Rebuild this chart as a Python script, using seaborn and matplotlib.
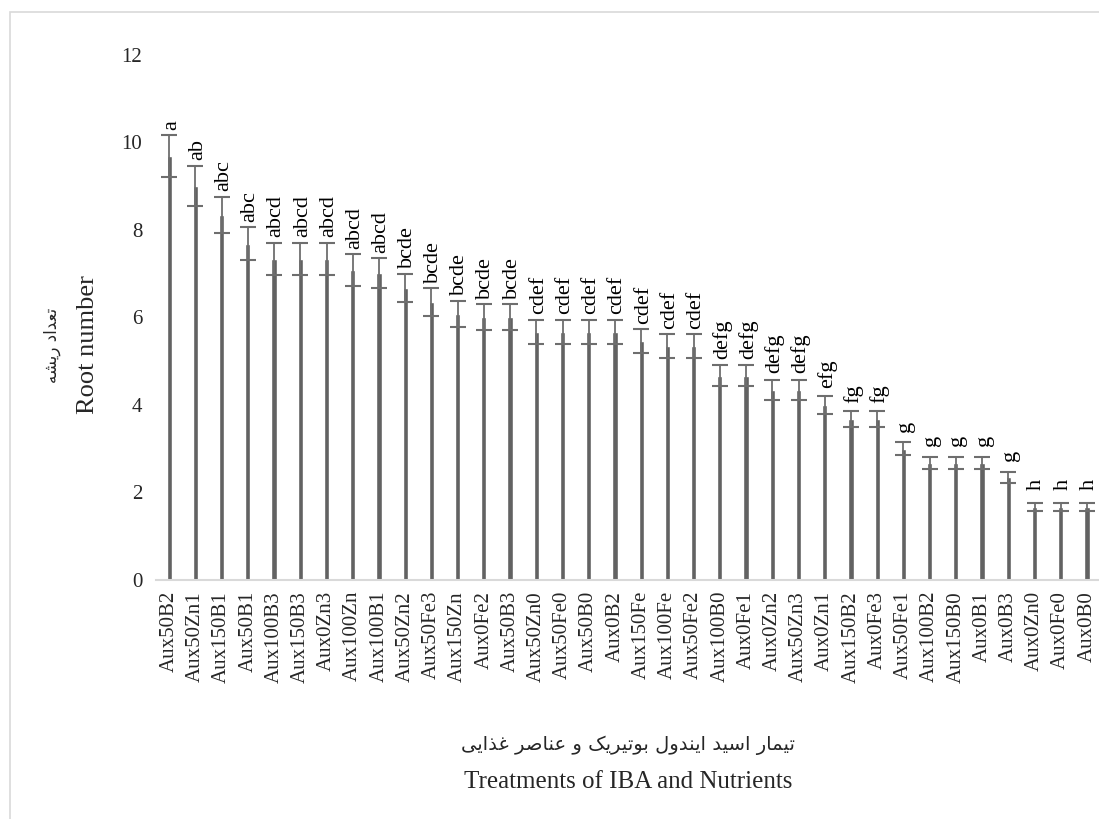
import numpy as np
import pandas as pd
import matplotlib
matplotlib.use("Agg")
import matplotlib.pyplot as plt
import seaborn as sns
from matplotlib.patches import Rectangle

# Data (mean root number, error, Duncan letters)
treatments = ["Aux50B2", "Aux50Zn1", "Aux150B1", "Aux50B1", "Aux100B3", "Aux150B3",
              "Aux0Zn3", "Aux100Zn", "Aux100B1", "Aux50Zn2", "Aux50Fe3", "Aux150Zn",
              "Aux0Fe2", "Aux50B3", "Aux50Zn0", "Aux50Fe0", "Aux50B0", "Aux0B2",
              "Aux150Fe", "Aux100Fe", "Aux50Fe2", "Aux100B0", "Aux0Fe1", "Aux0Zn2",
              "Aux50Zn3", "Aux0Zn1", "Aux150B2", "Aux0Fe3", "Aux50Fe1", "Aux100B2",
              "Aux150B0", "Aux0B1", "Aux0B3", "Aux0Zn0", "Aux0Fe0", "Aux0B0"]
root_number = [9.68, 9.01, 8.34, 7.68, 7.34, 7.34,
               7.34, 7.08, 7.01, 6.67, 6.34, 6.08,
               6.00, 6.00, 5.67, 5.67, 5.67, 5.67,
               5.46, 5.34, 5.34, 4.67, 4.67, 4.34,
               4.34, 4.00, 3.67, 3.67, 3.00, 2.67,
               2.67, 2.67, 2.34, 1.67, 1.67, 1.67]
errors = [0.48, 0.46, 0.42, 0.38, 0.37, 0.37,
          0.37, 0.36, 0.35, 0.33, 0.32, 0.30,
          0.30, 0.30, 0.28, 0.28, 0.28, 0.28,
          0.27, 0.27, 0.27, 0.23, 0.23, 0.22,
          0.22, 0.20, 0.18, 0.18, 0.15, 0.13,
          0.13, 0.13, 0.12, 0.09, 0.09, 0.09]
letters = ["a", "ab", "abc", "abc", "abcd", "abcd",
           "abcd", "abcd", "abcd", "bcde", "bcde", "bcde",
           "bcde", "bcde", "cdef", "cdef", "cdef", "cdef",
           "cdef", "cdef", "cdef", "defg", "defg", "defg",
           "defg", "efg", "fg", "fg", "g", "g",
           "g", "g", "g", "h", "h", "h"]

# Persian labels written as contextual glyph forms, reversed for left-to-right drawing
def farsi(codes):
    return "".join(chr(c) for c in reversed(codes))

ylabel_fa = farsi([0xFE97, 0xFECC, 0xFEAA, 0xFE8D, 0xFEA9, 0x20,
                   0xFEAD, 0xFEF3, 0xFEB8, 0xFEEA])
xlabel_fa = farsi([0xFE97, 0xFEF4, 0xFEE4, 0xFE8E, 0xFEAD, 0x20,
                   0xFE8D, 0xFEB3, 0xFEF4, 0xFEAA, 0x20,
                   0xFE8D, 0xFEF3, 0xFEE8, 0xFEAA, 0xFEED, 0xFEDD, 0x20,
                   0xFE91, 0xFEEE, 0xFE97, 0xFEF4, 0xFEAE, 0xFEF3, 0xFB8F, 0x20,
                   0xFEED, 0x20,
                   0xFECB, 0xFEE8, 0xFE8E, 0xFEBB, 0xFEAE, 0x20,
                   0xFECF, 0xFEAC, 0xFE8D, 0xFEF3, 0xFBFD])

df = pd.DataFrame({"treatment": treatments, "root_number": root_number})

sns.set_theme(style="white")
plt.rcParams["font.family"] = ["Liberation Serif", "DejaVu Sans"]

fig = plt.figure(figsize=(10.99, 8.19), dpi=100)
ax = fig.add_axes([0.142, 0.292, 0.859, 0.641])

sns.barplot(data=df, x="treatment", y="root_number", color="#626262",
            saturation=1, width=0.2, errorbar=None, ax=ax)
x = np.arange(len(treatments))
ax.errorbar(x, root_number, yerr=errors, fmt="none", ecolor="#6e6e6e",
            elinewidth=1.3, capsize=6, capthick=1.5)

# letters sit a little above the bar top, clear of the error cap
for i, (m, e, lab) in enumerate(zip(root_number, errors, letters)):
    ax.text(i + 0.08, m + max(0.38, e + 0.12), lab, rotation=90, ha="center",
            va="bottom", fontsize=16, color="black")

ax.set_ylim(0, 12)
ax.set_xlim(-0.5, len(treatments) - 0.5)
ax.set_yticks(range(0, 13, 2))
ax.tick_params(axis="y", length=0, pad=10, labelsize=15)
ax.tick_params(axis="x", length=0, pad=8, labelsize=15, rotation=90)
ax.set_xlabel("")
ax.set_ylabel("")
for side in ["top", "right", "left"]:
    ax.spines[side].set_visible(False)
ax.spines["bottom"].set_color("#d9d9d9")
ax.spines["bottom"].set_linewidth(1.5)

# Axis titles (Persian line above English line)
fig.text(52 / 1099, 1 - 345 / 819, ylabel_fa, rotation=90, ha="center", va="center",
         fontsize=12, family=["DejaVu Sans"])
fig.text(88 / 1099, 1 - 345 / 819, "Root number", rotation=90, ha="center", va="center",
         fontsize=19)
fig.text(628 / 1099, 1 - 745 / 819, xlabel_fa, ha="center", va="center",
         fontsize=14, family=["DejaVu Sans"])
fig.text(628 / 1099, 1 - 782 / 819, "Treatments of IBA and Nutrients", ha="center",
         va="center", fontsize=18)

# Chart area border
fig.patches.append(Rectangle((10 / 1099, -0.1), 1.2, 1.1 - 12 / 819, transform=fig.transFigure,
                             fill=False, edgecolor="#d9d9d9", linewidth=1.2))

fig.savefig("out.png", dpi=100)
